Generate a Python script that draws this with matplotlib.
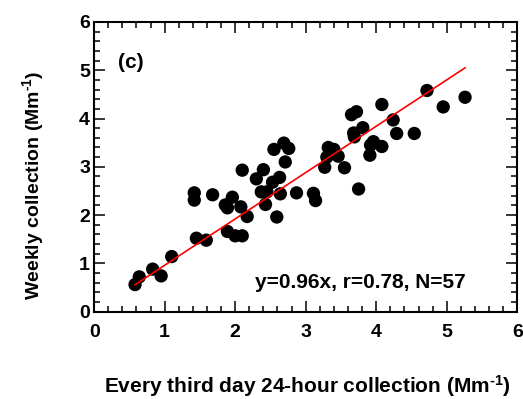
import numpy as np
import matplotlib.pyplot as plt
from matplotlib.ticker import MultipleLocator

plt.rcParams['font.family'] = ['Liberation Sans', 'DejaVu Sans']
plt.rcParams['font.weight'] = 'bold'
plt.rcParams['mathtext.fontset'] = 'custom'
plt.rcParams['mathtext.bf'] = 'Liberation Sans:bold'
plt.rcParams['mathtext.rm'] = 'Liberation Sans:bold'
plt.rcParams['mathtext.default'] = 'bf'

# every third day 24-hour collection (x) vs weekly collection (y), Mm^-1
x_third = [0.58, 0.64, 0.83, 0.95, 1.10, 1.42, 1.42, 1.45, 1.59, 1.68,
           1.86, 1.89, 1.96, 1.89, 2.00, 2.10, 2.08, 2.17, 2.10, 2.30,
           2.40, 2.37, 2.45, 2.43, 2.53, 2.63, 2.55, 2.69, 2.76, 2.71,
           2.64, 2.59, 2.87, 3.11, 3.14, 3.27, 3.30, 3.32, 3.40, 3.46,
           3.55, 3.65, 3.72, 3.68, 3.69, 3.81, 3.75, 3.92, 3.96, 3.91,
           4.08, 4.08, 4.24, 4.29, 4.54, 4.72, 4.95, 5.26]
y_week = [0.56, 0.72, 0.88, 0.74, 1.14, 2.46, 2.31, 1.52, 1.48, 2.42,
          2.21, 2.15, 2.37, 1.66, 1.57, 1.57, 2.17, 1.97, 2.93, 2.75,
          2.94, 2.48, 2.48, 2.22, 2.68, 2.78, 3.36, 3.49, 3.38, 3.10,
          2.44, 1.96, 2.46, 2.45, 2.30, 2.99, 3.20, 3.40, 3.36, 3.22,
          2.98, 4.08, 4.14, 3.70, 3.62, 3.81, 2.54, 3.45, 3.52, 3.24,
          3.42, 4.29, 3.97, 3.69, 3.69, 4.58, 4.24, 4.44]
slope = 0.96
r_val = 0.78
n_pts = 57
ticks = [0, 1, 2, 3, 4, 5, 6]

fig = plt.figure(figsize=(5.23, 3.99), dpi=100)
ax = fig.add_axes([0.180, 0.219, 0.809, 0.726])

ax.scatter(x_third, y_week, s=92, c='black', edgecolors='none', zorder=2)
xl = np.array([min(x_third), max(x_third)])
ax.plot(xl, slope * xl, color='red', lw=1.2, zorder=3)

ax.set_xlim(0, 6)
ax.set_ylim(0, 6)
ax.set_xticks(ticks)
ax.set_yticks(ticks)
ax.set_xticklabels([str(t) for t in ticks], fontsize=14, fontweight='bold')
ax.set_yticklabels([str(t) for t in ticks], fontsize=14, fontweight='bold')
ax.xaxis.set_minor_locator(MultipleLocator(0.2))
ax.yaxis.set_minor_locator(MultipleLocator(0.2))
ax.tick_params(which='both', direction='in', top=True, right=True, width=1.1)
ax.tick_params(which='major', length=8)
ax.tick_params(which='minor', length=4.5)
ax.tick_params(axis='x', which='major', pad=9)
ax.tick_params(axis='y', which='major', pad=3)
for sp in ax.spines.values():
    sp.set_linewidth(1.5)

ax.set_xlabel('Every third day 24-hour collection (Mm$^{\\text{-}1}$)',
              fontsize=15, fontweight='bold', va='top')
ax.xaxis.set_label_coords(0.505, -0.213)
ax.set_ylabel('Weekly collection (Mm$^{\\text{-}1}$)', fontsize=14, fontweight='bold')
ax.yaxis.set_label_coords(-0.113, 0.435)

ax.text(0.52, 5.15, '(c)', fontsize=15, fontweight='bold', ha='center', va='center')
ax.text(5.27, 0.6, f'y={slope:.2f}x, r={r_val:.2f}, N={n_pts}',
        fontsize=15, fontweight='bold', ha='right', va='center')

fig.savefig('out.png', dpi=100)
